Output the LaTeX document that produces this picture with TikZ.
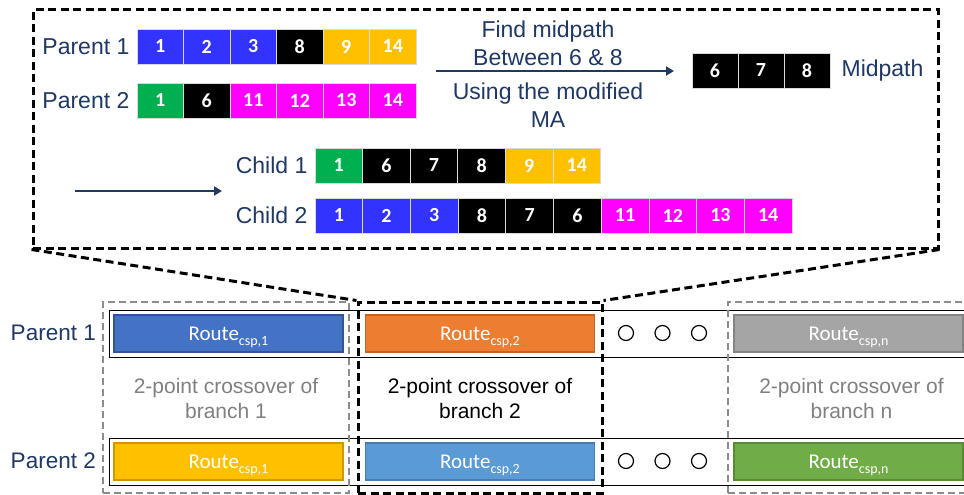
\documentclass[tikz,border=0pt]{standalone}
\usepackage{fontspec}
\setmainfont{Liberation Sans}
\newfontfamily\carlito{Carlito}
\usetikzlibrary{arrows.meta}
\definecolor{navy}{HTML}{1F3864}
\definecolor{cblue}{HTML}{3333FF}
\definecolor{cgreen}{HTML}{00B050}
\definecolor{cgold}{HTML}{FFC000}
\definecolor{cmag}{HTML}{FF00FF}
\definecolor{rblue}{HTML}{4472C4}
\definecolor{rorange}{HTML}{ED7D31}
\definecolor{rgray}{HTML}{A5A5A5}
\definecolor{rgold}{HTML}{FFC000}
\definecolor{rlblue}{HTML}{5B9BD5}
\definecolor{rgreen}{HTML}{70AD47}
\definecolor{gtext}{HTML}{808080}
\definecolor{gdash}{HTML}{8C8C8C}
\newcommand\rsub[1]{\raisebox{-0.5ex}[0pt][0pt]{\fontsize{14}{14}\selectfont #1}}
\begin{document}
\begin{tikzpicture}[x=1pt,y=-1pt,
  cell/.style={rectangle, minimum width=46.5pt, minimum height=35pt, inner sep=0pt,
    draw=white!85!black, line width=0.8pt, text=white,
    font=\carlito\bfseries\fontsize{20}{20}\selectfont},
  lab/.style={text=navy, inner sep=0pt, font=\fontsize{23}{28}\selectfont},
  blab/.style={text=navy, inner sep=0pt, font=\fontsize{22.5}{27}\selectfont},
  arr/.style={navy, line width=2.4pt, -{Triangle[length=8pt,width=9pt]}},
  bdash/.style={draw=black, line width=3pt, dash pattern=on 8pt off 4.5pt},
  gbox/.style={rectangle, draw=gdash, line width=2.4pt, dash pattern=on 7pt off 4pt, inner sep=0pt},
  kbox/.style={rectangle, draw=black, line width=3pt, dash pattern=on 8pt off 4.5pt, inner sep=0pt},
  rowbox/.style={rectangle, draw=black, line width=1.2pt, inner sep=0pt, anchor=north west,
    minimum width=880pt, minimum height=47pt},
  route/.style={rectangle, minimum width=229pt, minimum height=37pt, inner sep=0pt,
    line width=1.2pt, text=white, font=\carlito\fontsize{21}{21}\selectfont},
  dot/.style={circle, draw=black, line width=1.2pt, minimum size=15pt, inner sep=0pt},
  ctext/.style={align=center, inner sep=0pt, font=\fontsize{21}{25}\selectfont}
]
\useasboundingbox (0,0) rectangle (964,495);
\clip (0,0) rectangle (964,495);

% ---------- top zoom box ----------
\node[rectangle, bdash, inner sep=0pt, minimum width=905pt, minimum height=238pt] (topbox) at (485.5,129) {};

% Parent 1 cells
\foreach \c/\n [count=\i] in {cblue/1,cblue/2,cblue/3,black/8,cgold/9,cgold/14}
  \node[cell, fill=\c] (pa\i) at ({137+46.5*(\i-0.5)},46.5) {\n};
% Parent 2 cells
\foreach \c/\n [count=\i] in {cgreen/1,black/6,cmag/11,cmag/12,cmag/13,cmag/14}
  \node[cell, fill=\c] (pb\i) at ({137+46.5*(\i-0.5)},100.5) {\n};
\node[lab, anchor=east] (lpa) at ([xshift=-7pt]pa1.west) {Parent 1};
\node[lab, anchor=east] (lpb) at ([xshift=-7pt]pb1.west) {Parent 2};

% Midpath cells
\foreach \n [count=\i] in {6,7,8}
  \node[cell, fill=black, minimum width=46pt] (mp\i) at ({692+46*(\i-0.5)},70.5) {\n};
\node[lab, anchor=west] (lmp) at ([xshift=11pt]mp3.east) {Midpath};

% top arrow and its texts
\coordinate (as) at (436,71);
\coordinate (ae) at (674,71);
\draw[arr] (as) -- (ae);
\node[lab, align=center] (t1) at (548,43) {Find midpath\\Between 6 \& 8};
\node[lab, align=center] (t2) at (548,105) {Using the modified\\MA};

% Child 1 cells
\foreach \c/\n [count=\i] in {cgreen/1,black/6,black/7,black/8,cgold/9,cgold/14}
  \node[cell, fill=\c, minimum width=47.6pt] (ca\i) at ({315+47.6*(\i-0.5)},165.5) {\n};
% Child 2 cells
\foreach \c/\n [count=\i] in {cblue/1,cblue/2,cblue/3,black/8,black/7,black/6,cmag/11,cmag/12,cmag/13,cmag/14}
  \node[cell, fill=\c, minimum width=47.7pt] (cb\i) at ({315+47.7*(\i-0.5)},215.5) {\n};
\node[lab, anchor=east] (lca) at ([xshift=-7pt]ca1.west) {Child 1};
\node[lab, anchor=east] (lcb) at ([xshift=-7pt]cb1.west) {Child 2};

% left arrow
\coordinate (bs) at (75,191);
\coordinate (be) at (222,191);
\draw[arr] (bs) -- (be);

% ---------- bottom table ----------
\node[rowbox] (row1) at (109,310) {};
\node[rowbox] (row2) at (109,438) {};

\node[route, fill=rblue, draw=rblue!75!black] (r11) at (228.5,333.5) {Route\rsub{csp,1}};
\node[route, fill=rorange, draw=rorange!80!black] (r12) at (480,333.5) {Route\rsub{csp,2}};
\node[route, fill=rgray, draw=rgray!80!black] (r1n) at (848.5,333.5) {Route\rsub{csp,n}};
\node[route, fill=rgold, draw=rgold!80!black] (r21) at (228.5,461.5) {Route\rsub{csp,1}};
\node[route, fill=rlblue, draw=rlblue!80!black] (r22) at (480,461.5) {Route\rsub{csp,2}};
\node[route, fill=rgreen, draw=rgreen!80!black] (r2n) at (848.5,461.5) {Route\rsub{csp,n}};

\foreach \x [count=\i] in {626,662.5,699} {
  \node[dot] (da\i) at (\x,333) {};
  \node[dot] (db\i) at (\x,461) {};
}

\node[ctext, text=gtext] (x1) at (226,398.5) {2-point crossover of\\branch 1};
\node[ctext, text=black] (x2) at (480,398.5) {2-point crossover of\\branch 2};
\node[ctext, text=gtext] (xn) at (851.5,398.5) {2-point crossover of\\branch n};

\node[blab, anchor=east] (lp1) at (96,333) {Parent 1};
\node[blab, anchor=east] (lp2) at (96,461) {Parent 2};

% dashed selection boxes
\node[gbox, minimum width=246pt, minimum height=191pt] (g1) at (226,397.5) {};
\node[gbox, minimum width=247pt, minimum height=191pt] (gn) at (851.5,397.5) {};
\node[kbox, minimum width=244pt, minimum height=191pt] (b2) at (480,397.5) {};

% zoom lines
\draw[bdash] (topbox.south west) -- (b2.north west);
\draw[bdash] (topbox.south east) -- (b2.north east);
\end{tikzpicture}
\end{document}
